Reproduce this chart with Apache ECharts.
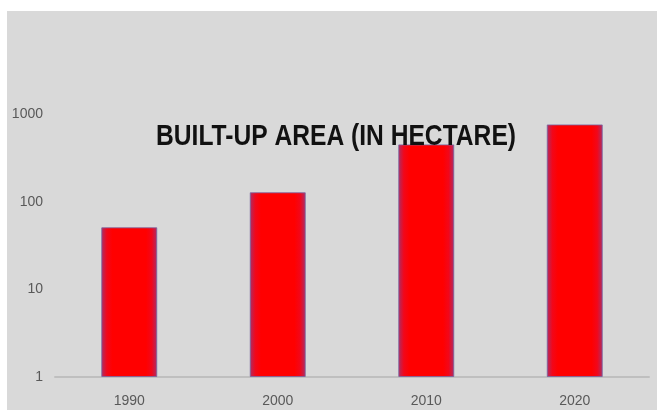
<!DOCTYPE html>
<html><head><meta charset="utf-8">
<script src="https://cdn.jsdelivr.net/npm/echarts@6/dist/echarts.min.js"></script>
<style>html,body{margin:0;padding:0;background:#fff}#c{width:657px;height:410px}</style>
</head><body><div id="c"></div>
<script>
var categories = ['1990', '2000', '2010', '2020'];
var builtUpArea = [51, 128, 450, 760];
var yTicks = [1, 10, 100, 1000];
var titleText = 'BUILT-UP AREA (IN HECTARE)';

var titleFont = 'bold 30px "Liberation Sans", sans-serif';
var mc = document.createElement('canvas').getContext('2d');
mc.font = titleFont;
var titleScale = 360 / mc.measureText(titleText).width;

var chart = echarts.init(document.getElementById('c'), null, {renderer: 'canvas'});
var barColor = new echarts.graphic.LinearGradient(0, 0, 1, 0, [
  {offset: 0, color: '#a8306a'},
  {offset: 0.1, color: '#f2071a'},
  {offset: 0.2, color: '#ff0000'},
  {offset: 0.8, color: '#ff0000'},
  {offset: 0.9, color: '#f2071a'},
  {offset: 1, color: '#a8306a'}
]);
chart.setOption({
  backgroundColor: '#ffffff',
  animation: false,
  graphic: [
    {type: 'rect', z: -10, shape: {x: 7, y: 11, width: 650, height: 399}, style: {fill: '#d9d9d9'}},
    {type: 'text', z: 100, x: 336, y: 137, scaleX: titleScale,
     style: {text: titleText, font: titleFont, fill: '#111', align: 'center', verticalAlign: 'middle'}}
  ],
  grid: {left: 55, right: 8, top: 114, bottom: 33},
  xAxis: {
    type: 'category', data: categories,
    axisLine: {show: true, lineStyle: {color: '#bfbfbf', width: 2}},
    axisTick: {show: false},
    axisLabel: {color: '#595959', fontSize: 14, margin: 17, fontFamily: '"Liberation Sans", sans-serif'}
  },
  yAxis: {
    type: 'log', logBase: 10, min: 1, max: 1000,
    axisLine: {show: false}, axisTick: {show: false}, splitLine: {show: false},
    axisLabel: {color: '#595959', fontSize: 14, margin: 12, fontFamily: '"Liberation Sans", sans-serif',
      formatter: function (v) { return yTicks.indexOf(Math.round(v)) >= 0 ? String(Math.round(v)) : ''; }}
  },
  series: [{
    type: 'bar', data: builtUpArea, barWidth: 56,
    itemStyle: {color: barColor, borderColor: 'rgba(120,100,160,0.8)', borderWidth: 1}
  }]
});
</script></body></html>
